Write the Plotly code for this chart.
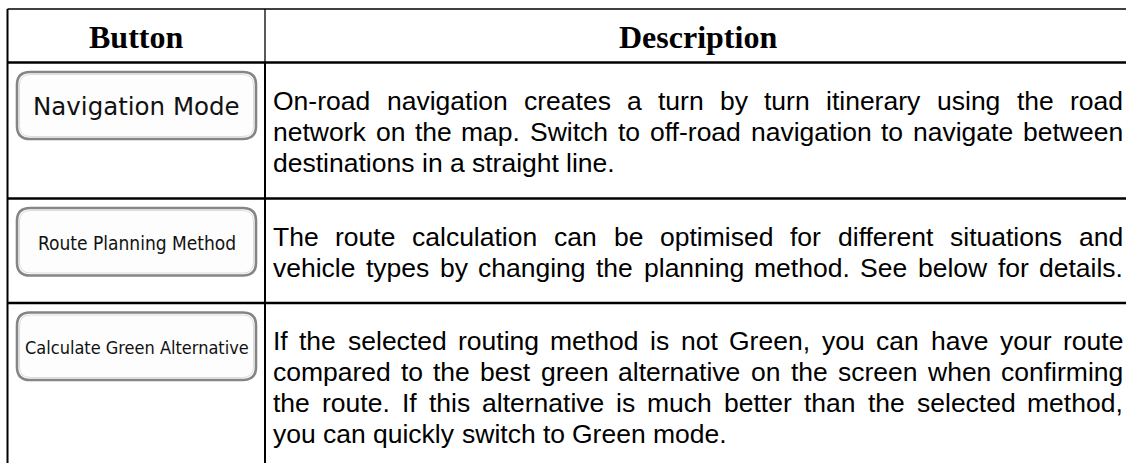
import plotly.graph_objects as go

# ---------------- data (table content) ----------------
header_labels = ["Button", "Description"]
button_labels = ["Navigation Mode", "Route Planning Method", "Calculate Green Alternative"]
description_row1 = [
    "On-road navigation creates a turn by turn itinerary using the road",
    "network on the map. Switch to off-road navigation to navigate between",
    "destinations in a straight line.",
]
description_row2 = [
    "The route calculation can be optimised for different situations and",
    "vehicle types by changing the planning method. See below for details.",
]
description_row3 = [
    "If the selected routing method is not Green, you can have your route",
    "compared to the best green alternative on the screen when confirming",
    "the route. If this alternative is much better than the selected method,",
    "you can quickly switch to Green mode.",
]
descriptions = [description_row1, description_row2, description_row3]
justify_last = [False, True, False]

# ---------------- layout constants ----------------
W, H = 1126, 463
TABLE_LEFT = 7.5
COL_DIV = 265
TABLE_RIGHT = 1126
ROW_EDGES = [9, 62.5, 198.5, 303, 475]
TEXT_LEFT, TEXT_RIGHT = 273, 1123
BODY_FS = 26.5
LINE_H = 31
FIRST_BASELINE = 47.5
BODY_FONT = "Liberation Sans, Arial, sans-serif"

# Arial / Liberation Sans advance widths (1/1000 em)
AW = {' ': 278, '.': 278, ',': 278, '-': 333, ':': 278, "'": 191,
      'a': 556, 'b': 556, 'c': 500, 'd': 556, 'e': 556, 'f': 278, 'g': 556, 'h': 556,
      'i': 222, 'j': 222, 'k': 500, 'l': 222, 'm': 833, 'n': 556, 'o': 556, 'p': 556,
      'q': 556, 'r': 333, 's': 500, 't': 278, 'u': 556, 'v': 500, 'w': 722, 'x': 500,
      'y': 500, 'z': 500,
      'A': 667, 'B': 667, 'C': 722, 'D': 722, 'E': 667, 'F': 611, 'G': 778, 'H': 722,
      'I': 278, 'J': 500, 'K': 667, 'L': 556, 'M': 833, 'N': 722, 'O': 778, 'P': 667,
      'Q': 778, 'R': 722, 'S': 667, 'T': 611, 'U': 722, 'V': 667, 'W': 944, 'X': 667,
      'Y': 667, 'Z': 611}


def text_w(s, fs):
    return sum(AW.get(c, 556) for c in s) * fs / 1000.0


def rrect(x0, y0, x1, y1, r):
    return (f"M{x0+r},{y0} L{x1-r},{y0} Q{x1},{y0} {x1},{y0+r} L{x1},{y1-r} "
            f"Q{x1},{y1} {x1-r},{y1} L{x0+r},{y1} Q{x0},{y1} {x0},{y1-r} "
            f"L{x0},{y0+r} Q{x0},{y0} {x0+r},{y0} Z")


fig = go.Figure()
shapes = []
annotations = []

# ---- table grid ----
def hline(y, w, x0=TABLE_LEFT, x1=TABLE_RIGHT):
    shapes.append(dict(type="line", xref="x", yref="y", x0=x0, x1=x1, y0=y, y1=y,
                       line=dict(color="black", width=w)))

def vline(x, y0, y1, w):
    shapes.append(dict(type="line", xref="x", yref="y", x0=x, x1=x, y0=y0, y1=y1,
                       line=dict(color="black", width=w)))

hline(ROW_EDGES[0], 1.3)
hline(ROW_EDGES[1], 2.5)
hline(ROW_EDGES[2], 2.5)
hline(ROW_EDGES[3], 2.5)
vline(TABLE_LEFT, ROW_EDGES[0], H + 5, 2)
vline(COL_DIV, ROW_EDGES[0], ROW_EDGES[1], 1.3)
vline(COL_DIV, ROW_EDGES[1], H + 5, 2)

# ---- header ----
header_centers = [(TABLE_LEFT + COL_DIV) / 2, 698]
for lab, cx in zip(header_labels, header_centers):
    annotations.append(dict(x=cx, y=37, xref="x", yref="y", text=lab, showarrow=False,
                            xanchor="center", yanchor="middle", borderpad=0, borderwidth=0,
                            font=dict(family="Liberation Serif, Times New Roman, serif",
                                      size=32, color="black", weight="bold")))

# ---- buttons ----
COND = "Liberation Sans Narrow, DejaVu Sans Condensed, Arial Narrow, sans-serif"
btn_fonts = [dict(family="DejaVu Sans, Verdana, sans-serif", size=24.5, color="#111111"),
             dict(family=COND, size=19, color="#111111"),
             dict(family=COND, size=18, color="#111111")]
btn_offsets = [(9.5, 76.5), (9.5, 77), (9.5, 77)]
for i, lab in enumerate(button_labels):
    top = ROW_EDGES[i + 1]
    y0, y1 = top + btn_offsets[i][0], top + btn_offsets[i][1]
    x0, x1 = 17, 256
    shapes.append(dict(type="path", xref="x", yref="y", path=rrect(x0, y0, x1, y1, 13),
                       fillcolor="#fdfdfd", line=dict(color="#858585", width=2.6)))
    shapes.append(dict(type="path", xref="x", yref="y",
                       path=rrect(x0 + 2.5, y0 + 2.5, x1 - 2.5, y1 - 2.5, 11),
                       fillcolor="rgba(0,0,0,0)", line=dict(color="#dcdcdc", width=1)))
    annotations.append(dict(x=(x0 + x1) / 2, y=(y0 + y1) / 2 + 1, xref="x", yref="y",
                            text=lab, showarrow=False, xanchor="center", yanchor="middle",
                            borderpad=0, borderwidth=0, font=btn_fonts[i]))

# ---- descriptions (justified) ----
for r, lines in enumerate(descriptions):
    top = ROW_EDGES[r + 1]
    for li, line in enumerate(lines):
        baseline = top + FIRST_BASELINE + li * LINE_H
        yc = baseline - 0.345 * BODY_FS
        words = line.split(" ")
        is_last = li == len(lines) - 1
        widths = [text_w(w_, BODY_FS) for w_ in words]
        if is_last and not justify_last[r]:
            gap = text_w(" ", BODY_FS)
        else:
            gap = (TEXT_RIGHT - TEXT_LEFT - sum(widths)) / (len(words) - 1)
        x = TEXT_LEFT
        for wi, (wd, ww) in enumerate(zip(words, widths)):
            last_just = (wi == len(words) - 1) and not (is_last and not justify_last[r])
            annotations.append(dict(x=TEXT_RIGHT if last_just else x, y=yc,
                                    xref="x", yref="y", text=wd, showarrow=False,
                                    xanchor="right" if last_just else "left",
                                    yanchor="middle", borderpad=0, borderwidth=0,
                                    font=dict(family=BODY_FONT, size=BODY_FS, color="black")))
            x += ww + gap

fig.update_layout(
    width=W, height=H,
    margin=dict(l=0, r=0, t=0, b=0),
    paper_bgcolor="white", plot_bgcolor="white",
    xaxis=dict(range=[0, W], visible=False, fixedrange=True),
    yaxis=dict(range=[H, 0], visible=False, fixedrange=True),
    shapes=shapes, annotations=annotations, showlegend=False,
)

fig.write_html("out.html", config={"displayModeBar": False},
               post_script="document.body.style.margin='0';document.body.style.overflow='hidden';")
